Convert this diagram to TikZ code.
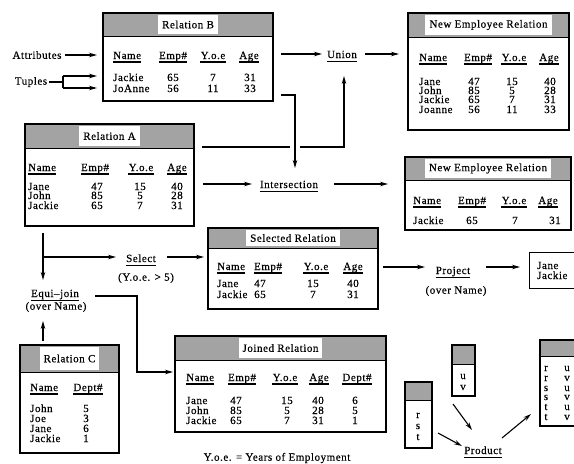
\documentclass[tikz,border=0pt]{standalone}
\usepackage{fontspec}
\setmainfont{Liberation Serif}[FakeBold=0.4,LetterSpace=5]
\usetikzlibrary{arrows.meta}
% relation box: name, x1, y1, x2, y2, y of header bottom, title
\newcommand{\relbox}[7]{%
  \fill[hdrfill] (#2,#3) rectangle (#4,#6);
  \node[lbl, minimum height={(#6-#3-4)*1pt}] (#1-t) at ({(#2+#4)/2},{(#3+#6)/2}) {#7};
  \draw[sepline] (#2,#6) -- (#4,#6);
  \node[relbox, minimum width={(#4-#2)*1pt}, minimum height={(#5-#3)*1pt}] (#1) at ({(#2+#4)/2},{(#3+#5)/2}) {};}
\newcommand{\prodbox}[6]{%
  \fill[hdrfill] (#2,#3) rectangle (#4,#6);
  \draw[sepline] (#2,#6) -- (#4,#6);
  \node[relbox, minimum width={(#4-#2)*1pt}, minimum height={(#5-#3)*1pt}] (#1) at ({(#2+#4)/2},{(#3+#5)/2}) {};}
\newcommand{\tL}[3]{\node[cellL] (c-#1-#2) at (#1,#2+4) {#3};}
\newcommand{\tC}[3]{\node[cell] (c-#1-#2) at (#1,#2+4) {#3};}
\newcommand{\hL}[3]{\node[cellL] (h-#1-#2) at (#1,#2+4) {#3};
  \draw[ul] ([yshift=-3pt]h-#1-#2.base west) -- ([yshift=-3pt]h-#1-#2.base east);}
\newcommand{\hC}[3]{\node[cell] (h-#1-#2) at (#1,#2+4) {#3};
  \draw[ul] ([yshift=-3pt]h-#1-#2.base west) -- ([yshift=-3pt]h-#1-#2.base east);}
\newcommand{\opn}[4]{\node[opst] (#1) at (#2,#3+4) {#4};
  \draw[ul] ([yshift=-3.5pt]#1.base west) -- ([yshift=-3.5pt]#1.base east);}
\begin{document}
\begin{tikzpicture}[x=1pt,y=-1pt,
  every node/.style={font=\fontsize{11}{12}\selectfont},
  cell/.style={inner sep=0pt, anchor=base},
  cellL/.style={inner sep=0pt, anchor=base west},
  opst/.style={inner sep=0pt, anchor=base},
  plain/.style={inner sep=0pt},
  ul/.style={line width=1.1pt},
  relbox/.style={draw, line width=1.4pt, inner sep=0pt},
  sepline/.style={line width=1pt},
  hdrfill/.style={fill=black!36},
  lbl/.style={fill=white, inner xsep=4pt, inner ysep=0pt},
  conn/.style={line width=1.1pt},
  arr/.style={conn, -{Stealth[length=8pt,width=4.5pt]}},
]
\useasboundingbox (0,0) rectangle (574,464);

% ---------- Relation B
\relbox{B}{103}{13}{273}{101}{36}{Relation B}
\hL{113}{55}{Name}\hC{173}{55}{Emp\#}\hC{213}{55}{Y.o.e}\hC{249}{55}{Age}
\tL{113}{77}{Jackie}\tC{173}{77}{65}\tC{213}{77}{7}\tC{250}{77}{31}
\tL{113}{88}{JoAnne}\tC{173}{88}{56}\tC{213}{88}{11}\tC{250}{88}{33}

% ---------- Relation A
\relbox{A}{25}{124}{194}{226}{148}{Relation A}
\hL{28}{167}{Name}\hC{95}{167}{Emp\#}\hC{141}{167}{Y.o.e}\hC{177}{167}{Age}
\tL{28}{186}{Jane}\tC{97}{186}{47}\tC{140}{186}{15}\tC{177}{186}{40}
\tL{28}{195}{John}\tC{97}{195}{85}\tC{140}{195}{5}\tC{177}{195}{28}
\tL{28}{205}{Jackie}\tC{97}{205}{65}\tC{140}{205}{7}\tC{177}{205}{31}

% ---------- New Employee Relation (union)
\relbox{N1}{408}{13}{569}{130}{37}{New Employee Relation}
\hL{419}{57}{Name}\hC{478}{57}{Emp\#}\hC{514}{57}{Y.o.e}\hC{549}{57}{Age}
\tL{419}{81}{Jane}\tC{474}{81}{47}\tC{512}{81}{15}\tC{550}{81}{40}
\tL{419}{90}{John}\tC{474}{90}{85}\tC{512}{90}{5}\tC{550}{90}{28}
\tL{419}{99}{Jackie}\tC{474}{99}{65}\tC{512}{99}{7}\tC{550}{99}{31}
\tL{419}{109}{Joanne}\tC{474}{109}{56}\tC{512}{109}{11}\tC{550}{109}{33}

% ---------- New Employee Relation (intersection)
\relbox{N2}{405}{157}{571}{230}{180}{New Employee Relation}
\hL{413}{200}{Name}\hC{472}{200}{Emp\#}\hC{514}{200}{Y.o.e}\hC{548}{200}{Age}
\tL{413}{220}{Jackie}\tC{472}{220}{65}\tC{515}{220}{7}\tC{555}{220}{31}

% ---------- Selected Relation
\relbox{S}{208}{228}{378}{309}{248}{Selected Relation}
\hL{217}{266}{Name}\hC{268}{266}{Emp\#}\hC{316}{266}{Y.o.e}\hC{353}{266}{Age}
\tL{217}{283}{Jane}\tC{260}{283}{47}\tC{313}{283}{15}\tC{353}{283}{40}
\tL{217}{294}{Jackie}\tC{260}{294}{65}\tC{313}{294}{7}\tC{353}{294}{31}

% ---------- Joined Relation
\relbox{J}{175}{336}{386}{432}{360}{Joined Relation}
\hL{186}{377}{Name}\hC{242}{377}{Emp\#}\hC{285}{377}{Y.o.e}\hC{319}{377}{Age}\hC{357}{377}{Dept\#}
\tL{186}{400}{Jane}\tC{236}{400}{47}\tC{287}{400}{15}\tC{318}{400}{40}\tC{355}{400}{6}
\tL{186}{410}{John}\tC{236}{410}{85}\tC{287}{410}{5}\tC{318}{410}{28}\tC{355}{410}{5}
\tL{186}{420}{Jackie}\tC{236}{420}{65}\tC{287}{420}{7}\tC{318}{420}{31}\tC{355}{420}{1}

% ---------- Relation C
\relbox{C}{20}{345}{119}{453}{372}{Relation C}
\hL{30}{387}{Name}\hC{88}{387}{Dept\#}
\tL{30}{408}{John}\tC{86}{408}{5}
\tL{30}{418}{Joe}\tC{86}{418}{3}
\tL{30}{428}{Jane}\tC{86}{428}{6}
\tL{30}{438}{Jackie}\tC{86}{438}{1}

% ---------- Projected names
\node[relbox, minimum width=70pt, minimum height=36pt, anchor=north west] (P) at (529,252) {};
\tL{537}{265}{Jane}
\tL{537}{275}{Jackie}

% ---------- Product boxes
\prodbox{R1}{405}{382}{432}{448}{400}
\tC{418}{414}{r}\tC{418}{425}{s}\tC{418}{436}{t}
\prodbox{R2}{452}{345}{475}{396}{364}
\tC{463}{375}{u}\tC{463}{386}{v}
\prodbox{R3}{540}{340}{600}{426}{356}
\tC{546}{367}{r}\tC{567}{367}{u}
\tC{546}{377}{r}\tC{567}{377}{v}
\tC{546}{387}{s}\tC{567}{387}{u}
\tC{546}{396}{s}\tC{567}{396}{v}
\tC{546}{406}{t}\tC{567}{406}{u}
\tC{546}{416}{t}\tC{567}{416}{v}

% ---------- operation labels
\opn{union}{342}{54}{Union}
\opn{inter}{289}{184}{Intersection}
\opn{select}{141}{258}{Select}
\opn{equi}{55}{293}{Equi--join}
\opn{proj}{453}{270}{Project}
\opn{prod}{483}{450}{Product}
\node[plain] (selc) at (146,278) {(Y.o.e. > 5)};
\node[plain] (equic) at (56,307) {(over Name)};
\node[plain] (projc) at (456,291) {(over Name)};
\node[plain] (att) at (37,55) {Attributes};
\node[plain] (tup) at (31,82) {Tuples};
\node[plain] (cap) at (277,458) {Y.o.e. = Years of Employment};

% ---------- connectors
\coordinate (attE) at (97,55);
\draw[arr] ([xshift=3pt]att.east) -- (attE);
\coordinate (tj) at (63,82);
\coordinate (tb1) at (63,76);
\coordinate (tb2) at (63,88);
\coordinate (tb1E) at (97,76);
\coordinate (tb2E) at (97,88);
\draw[conn] ([xshift=2pt]tup.east) -- (tj);
\draw[conn] (tb1) -- (tb2);
\draw[arr] (tb1) -- (tb1E);
\draw[arr] (tb2) -- (tb2E);

% B -> Union -> N1
\coordinate (bu) at (281,54);
\coordinate (buE) at (322,54);
\draw[arr] (bu) -- (buE);
\coordinate (un1) at (365,54);
\coordinate (un1E) at (399,54);
\draw[arr] (un1) -- (un1E);
% B -> Intersection (down)
\coordinate (bl) at (281,95);
\coordinate (bturn) at (295,95);
\coordinate (bdown) at (295,168);
\draw[arr] (bl) -- (bturn) -- (bdown);
% A -> Union (up)
\coordinate (al) at (202,147);
\coordinate (algap) at (290,147);
\coordinate (al2) at (300,147);
\coordinate (aturn) at (344,147);
\coordinate (aup) at (344,76);
\draw[conn] (al) -- (algap);
\draw[arr] (al2) -- (aturn) -- (aup);
% A -> Intersection -> N2
\coordinate (ai) at (203,184);
\coordinate (aiE) at (252,184);
\draw[arr] (ai) -- (aiE);
\coordinate (in2) at (334,184);
\coordinate (in2E) at (388,184);
\draw[arr] (in2) -- (in2E);
% A -> Equi-join, A -> Select
\coordinate (ad) at (43,233);
\coordinate (adE) at (43,280);
\draw[arr] (ad) -- (adE);
\coordinate (sel0) at (43,257);
\coordinate (sel0E) at (116,257);
\draw[arr] (sel0) -- (sel0E);
\coordinate (sel1) at (167,257);
\coordinate (sel1E) at (204,257);
\draw[arr] (sel1) -- (sel1E);
% C -> Equi-join
\coordinate (cu) at (43,341);
\coordinate (cuE) at (43,321);
\draw[arr] (cu) -- (cuE);
% Equi-join -> Joined
\coordinate (eq1) at (95,296);
\coordinate (eq2) at (137,296);
\coordinate (eq3) at (137,372);
\coordinate (eq4) at (173,372);
\draw[arr] (eq1) -- (eq2) -- (eq3) -- (eq4);
% Selected -> Project -> names
\coordinate (sp) at (383,267);
\coordinate (spE) at (425,267);
\draw[arr] (sp) -- (spE);
\coordinate (pp) at (486,267);
\coordinate (ppE) at (520,267);
\draw[arr] (pp) -- (ppE);
% Product
\coordinate (r1a) at (438,433);
\coordinate (r1b) at (462,446);
\draw[arr] (r1a) -- (r1b);
\coordinate (r2a) at (453,404);
\coordinate (r2b) at (472,430);
\draw[arr] (r2a) -- (r2b);
\coordinate (r3a) at (502,438);
\coordinate (r3b) at (531,414);
\draw[arr] (r3a) -- (r3b);
\end{tikzpicture}
\end{document}
